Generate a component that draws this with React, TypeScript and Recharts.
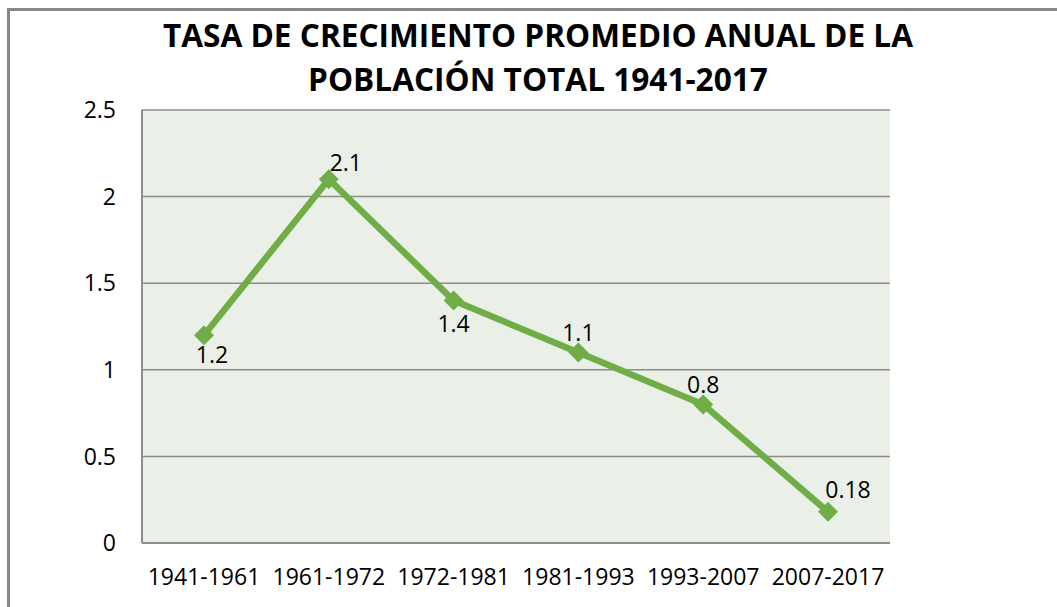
import React from "react";
import { LineChart, Line, XAxis, YAxis, CartesianGrid } from "recharts";

const categories = ["1941-1961", "1961-1972", "1972-1981", "1981-1993", "1993-2007", "2007-2017"];
const tasa = [1.2, 2.1, 1.4, 1.1, 0.8, 0.18];
const yTicks = [0, 0.5, 1, 1.5, 2, 2.5];
const labelOffsets = [
  [8, 19],
  [17, -17],
  [0, 22],
  [0, -20],
  [0, -20],
  [20, -23],
];

const data = categories.map((c, i) => ({ periodo: c, tasa: tasa[i] }));

const GREEN = "#70AD47";
const FONT = "'Open Sans', sans-serif";

const Diamond = (props: any) => {
  const { cx, cy } = props;
  if (cx == null || cy == null) return null;
  const r = 10;
  return (
    <polygon
      points={`${cx},${cy - r} ${cx + r},${cy} ${cx},${cy + r} ${cx - r},${cy}`}
      fill={GREEN}
      stroke="none"
    />
  );
};

const ValueLabel = (props: any) => {
  const { x, y, index, value } = props;
  const off = labelOffsets[index] || [0, -20];
  return (
    <text
      x={x + off[0]}
      y={y + off[1]}
      textAnchor="middle"
      dominantBaseline="central"
      fontFamily={FONT}
      fontSize={23}
      fill="#000"
    >
      {value}
    </text>
  );
};

export default function App() {
  return (
    <div style={{ position: "fixed", left: 0, top: 0, width: 1057, height: 607, overflow: "hidden", background: "#fff" }}>
      <div
        style={{
          position: "absolute",
          left: 7,
          top: 8,
          width: 1200,
          height: 800,
          border: "3px solid #878787",
          boxSizing: "border-box",
        }}
      />
      <div
        style={{
          position: "absolute",
          left: 0,
          top: 13.3,
          width: 1076,
          textAlign: "center",
          fontFamily: FONT,
          fontWeight: 700,
          fontSize: 31.6,
          lineHeight: "44px",
          color: "#000",
        }}
      >
        TASA DE CRECIMIENTO PROMEDIO ANUAL DE LA
        <br />
        POBLACIÓN TOTAL 1941-2017
      </div>
      <div style={{ position: "absolute", left: 0, top: 0 }}>
        <LineChart
          width={1057}
          height={607}
          data={data}
          margin={{ top: 110, right: 167, bottom: 34, left: 82 }}
        >
          <CartesianGrid vertical={false} stroke="#8c8c8c" strokeWidth={1.5} fill="#EAF0E8" />
          <XAxis
            dataKey="periodo"
            height={30}
            padding={{ left: 62, right: 62 }}
            axisLine={{ stroke: "#8c8c8c", strokeWidth: 2 }}
            tickLine={false}
            tickSize={0}
            tickMargin={26}
            tick={{ fontFamily: FONT, fontSize: 23, fill: "#000" }}
            interval={0}
          />
          <YAxis
            width={60}
            domain={[0, 2.5]}
            ticks={yTicks}
            axisLine={{ stroke: "#8c8c8c", strokeWidth: 2 }}
            tickLine={false}
            tickSize={0}
            tickMargin={26}
            tick={{ fontFamily: FONT, fontSize: 23, fill: "#000" }}
          />
          <Line
            type="linear"
            dataKey="tasa"
            stroke={GREEN}
            strokeWidth={6.5}
            dot={<Diamond />}
            activeDot={false}
            isAnimationActive={false}
            label={<ValueLabel />}
          />
        </LineChart>
      </div>
    </div>
  );
}
